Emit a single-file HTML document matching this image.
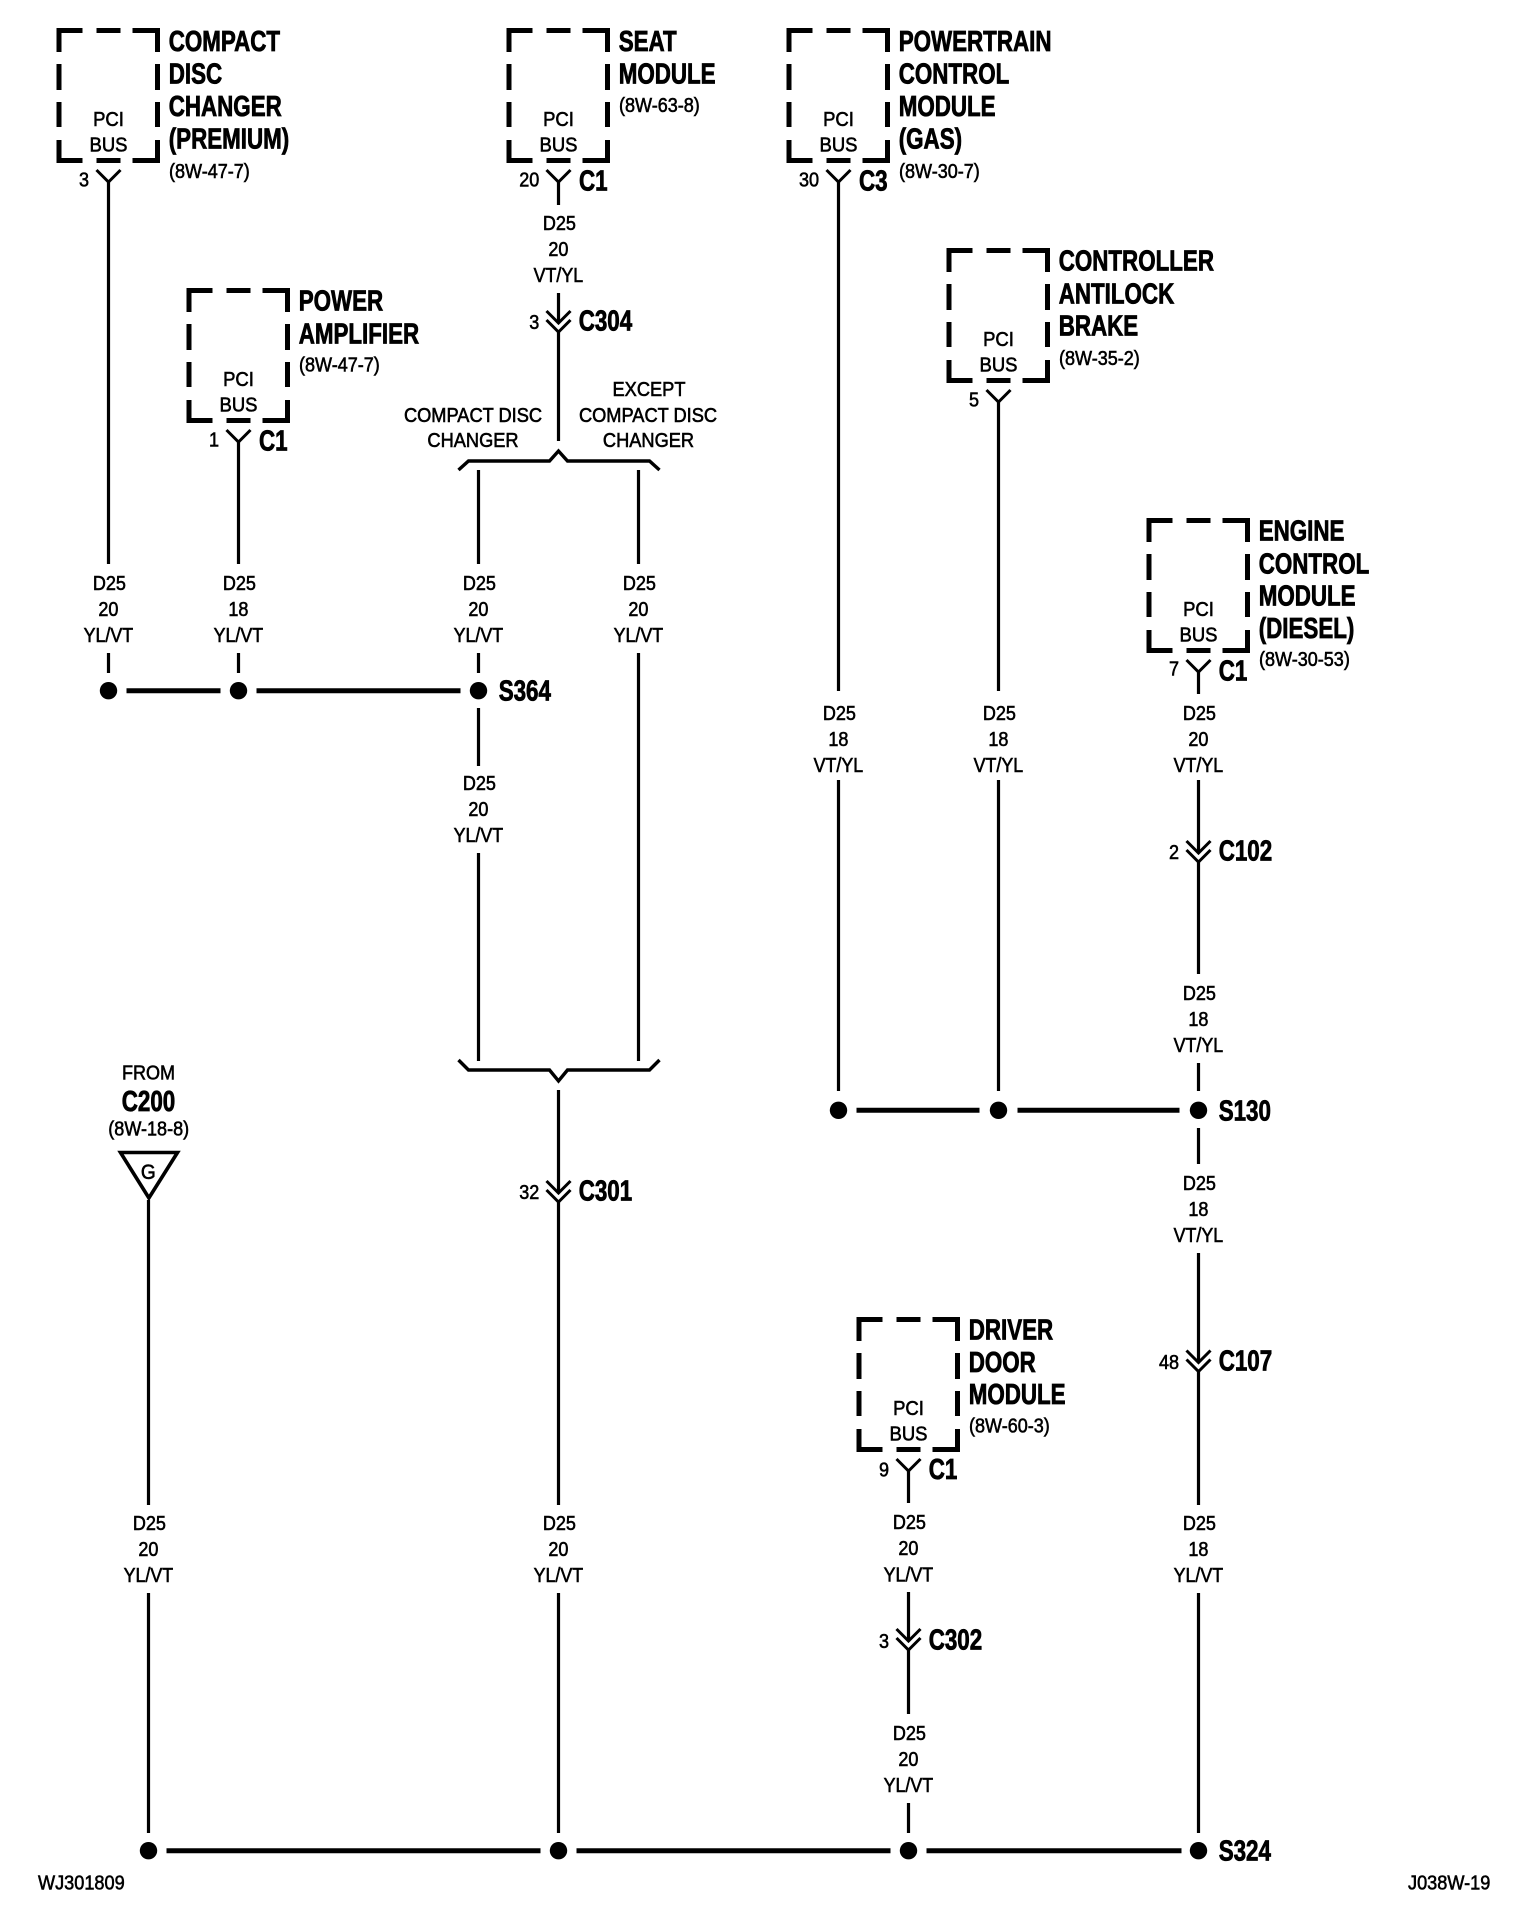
<!DOCTYPE html>
<html><head><meta charset="utf-8"><title>Wiring diagram</title>
<style>
html,body{margin:0;padding:0;background:#fff}
svg{display:block}
text{font-family:"Liberation Sans",Arial,sans-serif;fill:#000}
.t{font-size:20.5px;stroke:#000;stroke-width:.6px}
.b{font-size:28.5px;font-weight:bold;stroke:#000;stroke-width:.8px}
.m{text-anchor:middle}
.e{text-anchor:end}
</style></head><body>
<svg xmlns="http://www.w3.org/2000/svg" width="1520" height="1930" viewBox="0 0 1520 1930">
<rect width="1520" height="1930" fill="#fff"/>
<defs>
<path id="box" fill="none" stroke="#000" stroke-width="5" d="M2.5 24V2.5H26M40 2.5H64M76 2.5H101V24M2.5 36V62M2.5 74V99M101 36V62M101 74V99M2.5 112V132.5H26M40 132.5H64M76 132.5H101V112"/>
<path id="fork" fill="none" stroke="#000" stroke-width="3" d="M-12 0L0 12L12 0"/>
<path id="chev" fill="none" stroke="#000" stroke-width="3" d="M-12 1L0 13L12 1M-12 10L0 22L12 10"/>
</defs>

<!-- boxes -->
<g transform="translate(-.5 0)">
<use href="#box" x="57" y="28"/><use href="#box" x="187" y="288"/><use href="#box" x="507" y="28"/><use href="#box" x="787" y="28"/><use href="#box" x="947" y="248"/><use href="#box" x="1147" y="518"/><use href="#box" x="857" y="1317"/>
</g>

<g transform="translate(.5 0)">
<!-- forks -->
<use href="#fork" x="108" y="170"/><use href="#fork" x="238" y="430"/><use href="#fork" x="558" y="170"/><use href="#fork" x="838" y="170"/><use href="#fork" x="998" y="390"/><use href="#fork" x="1198" y="660"/><use href="#fork" x="908" y="1459"/>
<!-- chevrons -->
<use href="#chev" x="558" y="310"/><use href="#chev" x="558" y="1180"/><use href="#chev" x="1198" y="840"/><use href="#chev" x="1198" y="1349.5"/><use href="#chev" x="908" y="1628"/>

<!-- wires -->
<path fill="none" stroke="#000" stroke-width="3.2" d="
M108 181V564M108 653V673
M238 441V564M238 653V673
M558 181V205M558 293V323M558 331V441
M478 470V564M478 653V673M478 708V766M478 853V1061
M638 470V564M638 653V1061
M838 181V691M838 780V1091
M998 402V691M998 780V1091
M1198 671V694M1198 780V853M1198 861V974M1198 1063V1091M1198 1128V1164M1198 1253V1362M1198 1370V1505M1198 1593V1833
M148 1200V1505M148 1593V1833
M558 1090V1193M558 1201V1505M558 1593V1833
M908 1470V1503M908 1592V1641M908 1649V1714M908 1803V1833"/>

<!-- brackets -->
<path fill="none" stroke="#000" stroke-width="3.4" d="M458 470L468 461H549L558 451L567 461H649L659 470"/>
<path fill="none" stroke="#000" stroke-width="3.4" d="M458 1060L468 1070H549L558 1081L567 1070H649L659 1060"/>

<!-- horizontal buses -->
<path fill="none" stroke="#000" stroke-width="5" d="M126 690.7H220M256 690.7H460M856 1110.3H979M1017 1110.3H1179M166 1850.7H540M576 1850.7H890M926 1850.7H1181"/>
<!-- dots -->
<g fill="#000">
<circle cx="108" cy="690.7" r="8.7"/><circle cx="238" cy="690.7" r="8.7"/><circle cx="478" cy="690.7" r="8.7"/>
<circle cx="838" cy="1110.3" r="8.7"/><circle cx="998" cy="1110.3" r="8.7"/><circle cx="1198" cy="1110.3" r="8.7"/>
<circle cx="148" cy="1850.7" r="8.7"/><circle cx="558" cy="1850.7" r="8.7"/><circle cx="908" cy="1850.7" r="8.7"/><circle cx="1198" cy="1850.7" r="8.7"/>
</g>
<!-- ground triangle -->
<polygon points="120,1152.5 177,1152.5 148.4,1198" fill="none" stroke="#000" stroke-width="3.6"/>
</g>

<!-- titles -->
<text class="b" transform="translate(168.7 51) scale(.785 1)">COMPACT</text>
<text class="b" transform="translate(168.7 83.3) scale(.785 1)">DISC</text>
<text class="b" transform="translate(168.7 116) scale(.785 1)">CHANGER</text>
<text class="b" transform="translate(168.7 148.3) scale(.785 1)">(PREMIUM)</text>
<text class="t" transform="translate(169 178) scale(.88 1)">(8W-47-7)</text>

<text class="b" transform="translate(298.7 310.7) scale(.785 1)">POWER</text>
<text class="b" transform="translate(298.7 343.3) scale(.785 1)">AMPLIFIER</text>
<text class="t" transform="translate(299 371.7) scale(.88 1)">(8W-47-7)</text>

<text class="b" transform="translate(618.7 51) scale(.785 1)">SEAT</text>
<text class="b" transform="translate(618.7 83.3) scale(.785 1)">MODULE</text>
<text class="t" transform="translate(619 112) scale(.88 1)">(8W-63-8)</text>

<text class="b" transform="translate(898.7 51) scale(.785 1)">POWERTRAIN</text>
<text class="b" transform="translate(898.7 83.3) scale(.785 1)">CONTROL</text>
<text class="b" transform="translate(898.7 116) scale(.785 1)">MODULE</text>
<text class="b" transform="translate(898.7 148.3) scale(.785 1)">(GAS)</text>
<text class="t" transform="translate(899 178) scale(.88 1)">(8W-30-7)</text>

<text class="b" transform="translate(1058.7 270.7) scale(.785 1)">CONTROLLER</text>
<text class="b" transform="translate(1058.7 303.3) scale(.785 1)">ANTILOCK</text>
<text class="b" transform="translate(1058.7 335.7) scale(.785 1)">BRAKE</text>
<text class="t" transform="translate(1059 365) scale(.88 1)">(8W-35-2)</text>

<text class="b" transform="translate(1258.7 540.7) scale(.785 1)">ENGINE</text>
<text class="b" transform="translate(1258.7 573.3) scale(.785 1)">CONTROL</text>
<text class="b" transform="translate(1258.7 605.5) scale(.785 1)">MODULE</text>
<text class="b" transform="translate(1258.7 638) scale(.785 1)">(DIESEL)</text>
<text class="t" transform="translate(1259 666) scale(.88 1)">(8W-30-53)</text>

<text class="b" transform="translate(968.7 1339.5) scale(.785 1)">DRIVER</text>
<text class="b" transform="translate(968.7 1372) scale(.785 1)">DOOR</text>
<text class="b" transform="translate(968.7 1404) scale(.785 1)">MODULE</text>
<text class="t" transform="translate(969 1432.5) scale(.88 1)">(8W-60-3)</text>

<!-- PCI BUS -->
<g transform="translate(0 -.9)">
<text class="t m" transform="translate(108.5 126.7) scale(.9 1)">PCI</text><text class="t m" transform="translate(108.5 152.3) scale(.9 1)">BUS</text>
<text class="t m" transform="translate(238.5 386.7) scale(.9 1)">PCI</text><text class="t m" transform="translate(238.5 412.3) scale(.9 1)">BUS</text>
<text class="t m" transform="translate(558.5 126.7) scale(.9 1)">PCI</text><text class="t m" transform="translate(558.5 152.3) scale(.9 1)">BUS</text>
<text class="t m" transform="translate(838.5 126.7) scale(.9 1)">PCI</text><text class="t m" transform="translate(838.5 152.3) scale(.9 1)">BUS</text>
<text class="t m" transform="translate(998.5 346.7) scale(.9 1)">PCI</text><text class="t m" transform="translate(998.5 372.3) scale(.9 1)">BUS</text>
<text class="t m" transform="translate(1198.5 616.7) scale(.9 1)">PCI</text><text class="t m" transform="translate(1198.5 642.3) scale(.9 1)">BUS</text>
<text class="t m" transform="translate(908.5 1415.7) scale(.9 1)">PCI</text><text class="t m" transform="translate(908.5 1441.3) scale(.9 1)">BUS</text>
</g>

<!-- pin numbers -->
<text class="t e" transform="translate(89 186.7) scale(.88 1)">3</text>
<text class="t e" transform="translate(219 446.7) scale(.88 1)">1</text>
<text class="t e" transform="translate(539.3 186.7) scale(.88 1)">20</text>
<text class="t e" transform="translate(819 186.7) scale(.88 1)">30</text>
<text class="t e" transform="translate(979 406.7) scale(.88 1)">5</text>
<text class="t e" transform="translate(1179 675.7) scale(.88 1)">7</text>
<text class="t e" transform="translate(889 1476.7) scale(.88 1)">9</text>
<text class="t e" transform="translate(539.3 329) scale(.88 1)">3</text>
<text class="t e" transform="translate(539.3 1199) scale(.88 1)">32</text>
<text class="t e" transform="translate(1179 859) scale(.88 1)">2</text>
<text class="t e" transform="translate(1179 1369) scale(.88 1)">48</text>
<text class="t e" transform="translate(889 1648) scale(.88 1)">3</text>

<!-- connector names -->
<text class="b" transform="translate(579 190.7) scale(.785 1)">C1</text>
<text class="b" transform="translate(859 190.7) scale(.785 1)">C3</text>
<text class="b" transform="translate(259 450.7) scale(.785 1)">C1</text>
<text class="b" transform="translate(1218.7 680.7) scale(.785 1)">C1</text>
<text class="b" transform="translate(928.7 1479) scale(.785 1)">C1</text>
<text class="b" transform="translate(578.7 330.7) scale(.785 1)">C304</text>
<text class="b" transform="translate(578.7 1200.7) scale(.785 1)">C301</text>
<text class="b" transform="translate(1218.7 860.7) scale(.785 1)">C102</text>
<text class="b" transform="translate(1218.7 1370.7) scale(.785 1)">C107</text>
<text class="b" transform="translate(928.7 1649.3) scale(.785 1)">C302</text>
<text class="b" transform="translate(498.7 700.7) scale(.785 1)">S364</text>
<text class="b" transform="translate(1218.7 1120.3) scale(.785 1)">S130</text>
<text class="b" transform="translate(1218.7 1860.7) scale(.785 1)">S324</text>

<!-- wire labels -->
<g transform="translate(.4 -.9)">
<text class="t m" transform="translate(109 590.7) scale(.88 1)">D25</text><text class="t m" transform="translate(108 616.8) scale(.88 1)">20</text><text class="t m" transform="translate(108 642.8) scale(.87 1)">YL/VT</text>
<text class="t m" transform="translate(239 590.7) scale(.88 1)">D25</text><text class="t m" transform="translate(238 616.8) scale(.88 1)">18</text><text class="t m" transform="translate(238 642.8) scale(.87 1)">YL/VT</text>
<text class="t m" transform="translate(479 590.7) scale(.88 1)">D25</text><text class="t m" transform="translate(478 616.8) scale(.88 1)">20</text><text class="t m" transform="translate(478 642.8) scale(.87 1)">YL/VT</text>
<text class="t m" transform="translate(639 590.7) scale(.88 1)">D25</text><text class="t m" transform="translate(638 616.8) scale(.88 1)">20</text><text class="t m" transform="translate(638 642.8) scale(.87 1)">YL/VT</text>
<text class="t m" transform="translate(479 790.7) scale(.88 1)">D25</text><text class="t m" transform="translate(478 816.8) scale(.88 1)">20</text><text class="t m" transform="translate(478 842.8) scale(.87 1)">YL/VT</text>
<text class="t m" transform="translate(559 230.7) scale(.88 1)">D25</text><text class="t m" transform="translate(558 256.8) scale(.88 1)">20</text><text class="t m" transform="translate(558 282.8) scale(.87 1)">VT/YL</text>
<text class="t m" transform="translate(839 720.7) scale(.88 1)">D25</text><text class="t m" transform="translate(838 746.8) scale(.88 1)">18</text><text class="t m" transform="translate(838 772.8) scale(.87 1)">VT/YL</text>
<text class="t m" transform="translate(999 720.7) scale(.88 1)">D25</text><text class="t m" transform="translate(998 746.8) scale(.88 1)">18</text><text class="t m" transform="translate(998 772.8) scale(.87 1)">VT/YL</text>
<text class="t m" transform="translate(1199 720.7) scale(.88 1)">D25</text><text class="t m" transform="translate(1198 746.8) scale(.88 1)">20</text><text class="t m" transform="translate(1198 772.8) scale(.87 1)">VT/YL</text>
<text class="t m" transform="translate(1199 1000.7) scale(.88 1)">D25</text><text class="t m" transform="translate(1198 1026.8) scale(.88 1)">18</text><text class="t m" transform="translate(1198 1052.8) scale(.87 1)">VT/YL</text>
<text class="t m" transform="translate(1199 1191) scale(.88 1)">D25</text><text class="t m" transform="translate(1198 1216.8) scale(.88 1)">18</text><text class="t m" transform="translate(1198 1242.8) scale(.87 1)">VT/YL</text>
<text class="t m" transform="translate(1199 1530.7) scale(.88 1)">D25</text><text class="t m" transform="translate(1198 1556.8) scale(.88 1)">18</text><text class="t m" transform="translate(1198 1582.8) scale(.87 1)">YL/VT</text>
<text class="t m" transform="translate(149 1531) scale(.88 1)">D25</text><text class="t m" transform="translate(148 1556.8) scale(.88 1)">20</text><text class="t m" transform="translate(148 1582.8) scale(.87 1)">YL/VT</text>
<text class="t m" transform="translate(559 1531) scale(.88 1)">D25</text><text class="t m" transform="translate(558 1556.8) scale(.88 1)">20</text><text class="t m" transform="translate(558 1582.8) scale(.87 1)">YL/VT</text>
<text class="t m" transform="translate(909 1530) scale(.88 1)">D25</text><text class="t m" transform="translate(908 1556) scale(.88 1)">20</text><text class="t m" transform="translate(908 1582.3) scale(.87 1)">YL/VT</text>
<text class="t m" transform="translate(909 1741) scale(.88 1)">D25</text><text class="t m" transform="translate(908 1766.8) scale(.88 1)">20</text><text class="t m" transform="translate(908 1792.7) scale(.87 1)">YL/VT</text>
</g>

<!-- option labels -->
<text class="t m" transform="translate(473 422.2) scale(.89 1)">COMPACT DISC</text>
<text class="t m" transform="translate(473 447.2) scale(.89 1)">CHANGER</text>
<text class="t m" transform="translate(649 396) scale(.89 1)">EXCEPT</text>
<text class="t m" transform="translate(648 422.2) scale(.89 1)">COMPACT DISC</text>
<text class="t m" transform="translate(648.5 447.2) scale(.89 1)">CHANGER</text>

<!-- from -->
<text class="t m" transform="translate(148.5 1079.7) scale(.88 1)">FROM</text>
<text class="b m" transform="translate(148.5 1111) scale(.785 1)">C200</text>
<text class="t m" transform="translate(148.7 1135.5) scale(.88 1)">(8W-18-8)</text>
<text class="t m" transform="translate(148.3 1179) scale(.93 1.02)">G</text>

<!-- ids -->
<text class="t" transform="translate(38 1889.7) scale(.885 1)">WJ301809</text>
<text class="t" transform="translate(1408 1889.7) scale(.885 1)">J038W-19</text>
</svg>
</body></html>
